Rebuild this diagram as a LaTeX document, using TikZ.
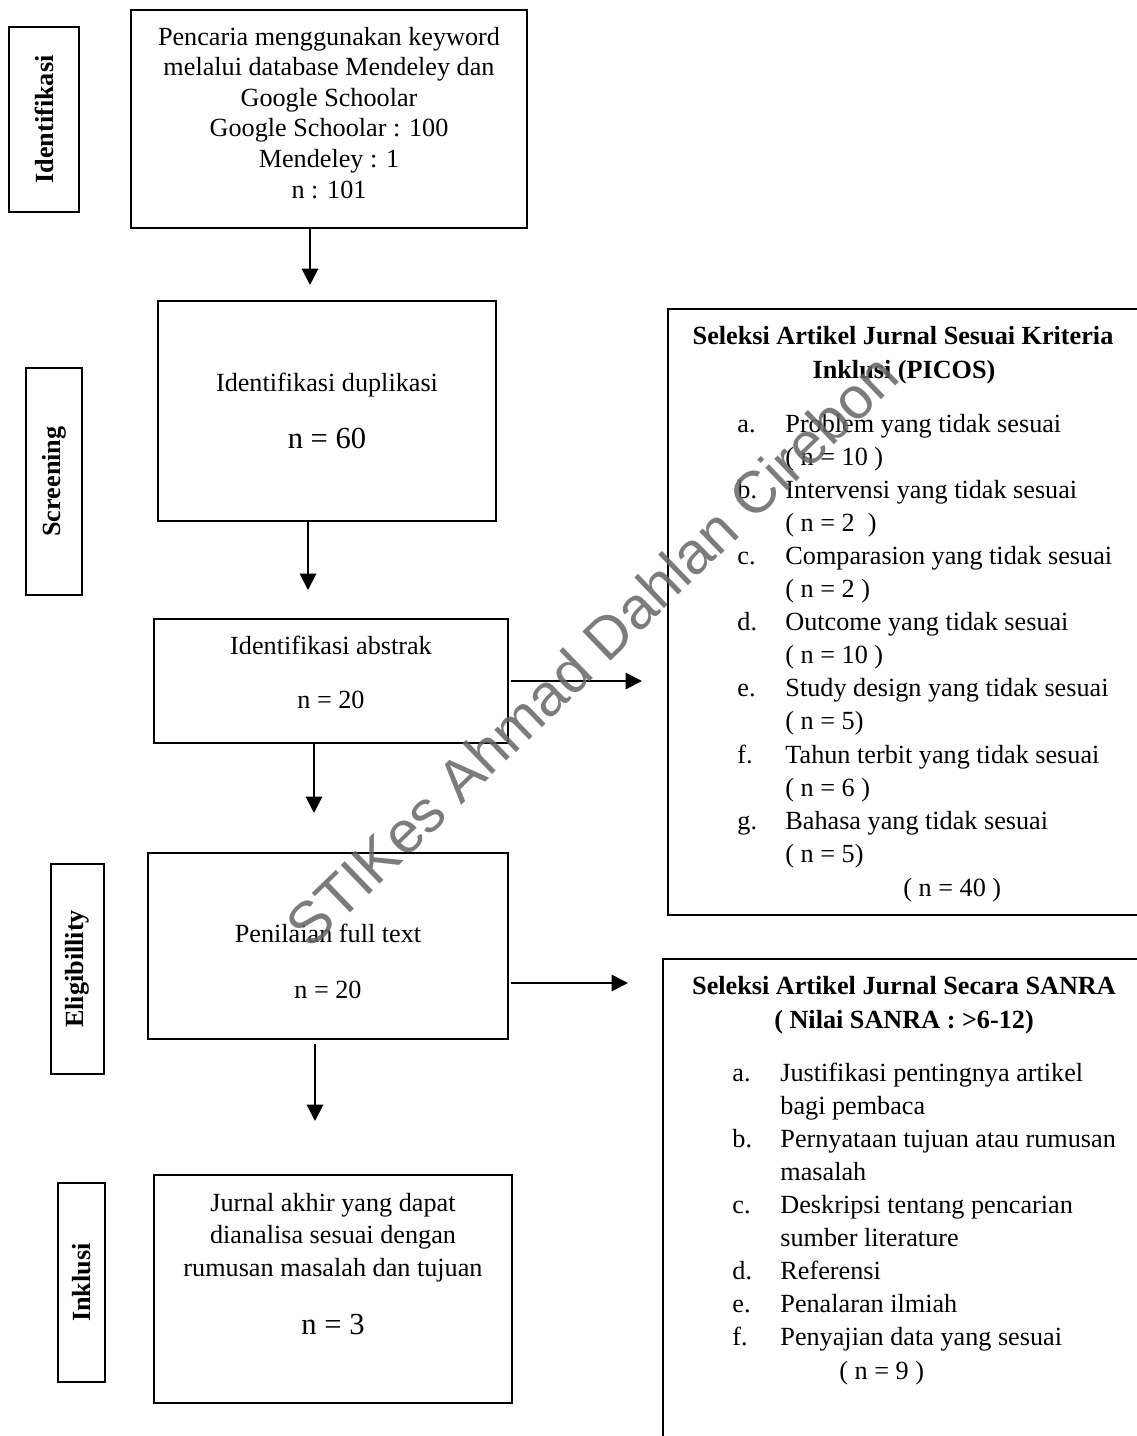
\documentclass[tikz,border=0pt]{standalone}
\usepackage{fontspec}
\setmainfont{Liberation Serif}
\newfontfamily\wmfont{Liberation Sans}
\usetikzlibrary{arrows.meta,fit}
\begin{document}
\begin{tikzpicture}[x=0.458pt,y=-0.458pt,
  box/.style={draw, line width=0.6pt, inner sep=0pt},
  lbox/.style={draw, line width=0.6pt, inner sep=0pt},
  txt/.style={anchor=base, inner sep=0pt, font=\fontsize{12}{14}\selectfont},
  big/.style={anchor=base, inner sep=0pt, font=\fontsize{14}{16}\selectfont},
  ttl/.style={anchor=base, inner sep=0pt, font=\fontsize{12}{14}\selectfont\bfseries},
  itm/.style={anchor=base west, inner sep=0pt, font=\fontsize{12}{14}\selectfont},
  lab/.style={rotate=90, inner sep=0pt, font=\fontsize{12}{14}\selectfont\bfseries},
  arr/.style={line width=0.9pt, -{Triangle[length=7.5pt,width=7.5pt]}}]
\useasboundingbox (0,0) rectangle (1137,1436);
\fill[white] (0,0) rectangle (1137,1436);

% left stage labels
\node[lbox, line width=0.9pt, fit={(9,27) (79,212)}] (l1) {};
\node[lab] (l1t) at (l1.center) {Identifikasi};
\node[lbox, fit={(26,368) (82,595)}] (l2) {};
\node[lab] (l2t) at (l2.center) {Screening};
\node[lbox, fit={(51,864) (104,1074)}] (l3) {};
\node[lab] (l3t) at (l3.center) {Eligibillity};
\node[lbox, fit={(58,1183) (105,1382)}] (l4) {};
\node[lab] (l4t) at (l4.center) {Inklusi};

% main boxes
\node[box, fit={(131,10) (527,228)}] (b1) {};
\node[txt] (b1a) at (329,45) {Pencaria menggunakan keyword};
\node[txt] (b1b) at (329,75.6) {melalui database Mendeley dan};
\node[txt] (b1c) at (329,106.2) {Google Schoolar};
\node[txt] (b1d) at (329,136.8) {Google Schoolar : 100};
\node[txt] (b1e) at (329,167.4) {Mendeley : 1};
\node[txt] (b1f) at (329,198) {n : 101};

\node[box, fit={(158,301) (496,521)}] (b2) {};
\node[txt] (b2a) at (327,391) {Identifikasi duplikasi};
\node[big] (b2b) at (327,448) {n = 60};

\node[box, fit={(154,619) (508,743)}] (b3) {};
\node[txt] (b3a) at (331,654) {Identifikasi abstrak};
\node[txt] (b3b) at (331,708) {n = 20};

\node[box, fit={(148,853) (508,1039)}] (b4) {};
\node[txt] (b4a) at (328,942) {Penilaian full text};
\node[txt] (b4b) at (328,998) {n = 20};

\node[box, fit={(154,1175) (512,1403)}] (b5) {};
\node[txt] (b5a) at (333,1211) {Jurnal akhir yang dapat};
\node[txt] (b5b) at (333,1243.5) {dianalisa sesuai dengan};
\node[txt] (b5c) at (333,1276) {rumusan masalah dan tujuan};
\node[big] (b5d) at (333,1334) {n = 3};

% PICOS box
\node[box, fit={(668,309) (1141,915)}] (pc) {};
\node[ttl] (pct1) at (903,344) {Seleksi Artikel Jurnal Sesuai Kriteria};
\node[ttl] (pct2) at (904,378) {Inklusi (PICOS)};
\foreach \l [count=\k from 0] in {a.,b.,c.,d.,e.,f.,g.}
  \node[itm] (pl\k) at (737,{432+66.2*\k}) {\l};
\foreach \t [count=\k from 0] in {Problem yang tidak sesuai,( n = 10 ),Intervensi yang tidak sesuai,( n = 2 \ ),Comparasion yang tidak sesuai,( n = 2 ),Outcome yang tidak sesuai,( n = 10 ),Study design yang tidak sesuai,( n = 5),Tahun terbit yang tidak sesuai,( n = 6 ),Bahasa yang tidak sesuai,( n = 5)}
  \node[itm] (pt\k) at (785,{432+33.1*\k}) {\t};
\node[itm] (ptot) at (903,896) {( n = 40 )};

% SANRA box
\node[box, fit={(663,959) (1146,1446)}] (sn) {};
\node[ttl] (snt1) at (904,994) {Seleksi Artikel Jurnal Secara SANRA};
\node[ttl] (snt2) at (904,1028) {( Nilai SANRA : >6-12)};
\foreach \l/\k in {a./0,b./2,c./4,d./6,e./7,f./8}
  \node[itm] (sl\k) at (732,{1081+33.1*\k}) {\l};
\foreach \t [count=\k from 0] in {Justifikasi pentingnya artikel,bagi pembaca,Pernyataan tujuan atau rumusan,masalah,Deskripsi tentang pencarian,sumber literature,Referensi,Penalaran ilmiah,Penyajian data yang sesuai}
  \node[itm] (st\k) at (780,{1081+33.1*\k}) {\t};
\node[itm] (stot) at (839,1379) {( n = 9 )};

% arrows
\coordinate (a1e) at (310,285);
\coordinate (a2e) at (308,590);
\coordinate (a3e) at (314,813);
\coordinate (a4e) at (315,1121);
\coordinate (a4s) at (315,1044);
\coordinate (r1e) at (642,681);
\coordinate (r2e) at (628,983);
\draw[arr] (b1.south -| a1e) -- (a1e);
\draw[arr] (b2.south -| a2e) -- (a2e);
\draw[arr] (b3.south -| a3e) -- (a3e);
\draw[arr] (a4s) -- (a4e);
\draw[arr] ([xshift=1pt]b3.east |- r1e) -- (r1e);
\draw[arr] ([xshift=1pt]b4.east |- r2e) -- (r2e);

% watermark
\node[rotate=44, inner sep=0pt, font=\wmfont\fontsize{27}{30}\selectfont, text=black!60, opacity=0.85] (wm) at (592,650) {STIKes Ahmad Dahlan Cirebon};
\end{tikzpicture}
\end{document}
